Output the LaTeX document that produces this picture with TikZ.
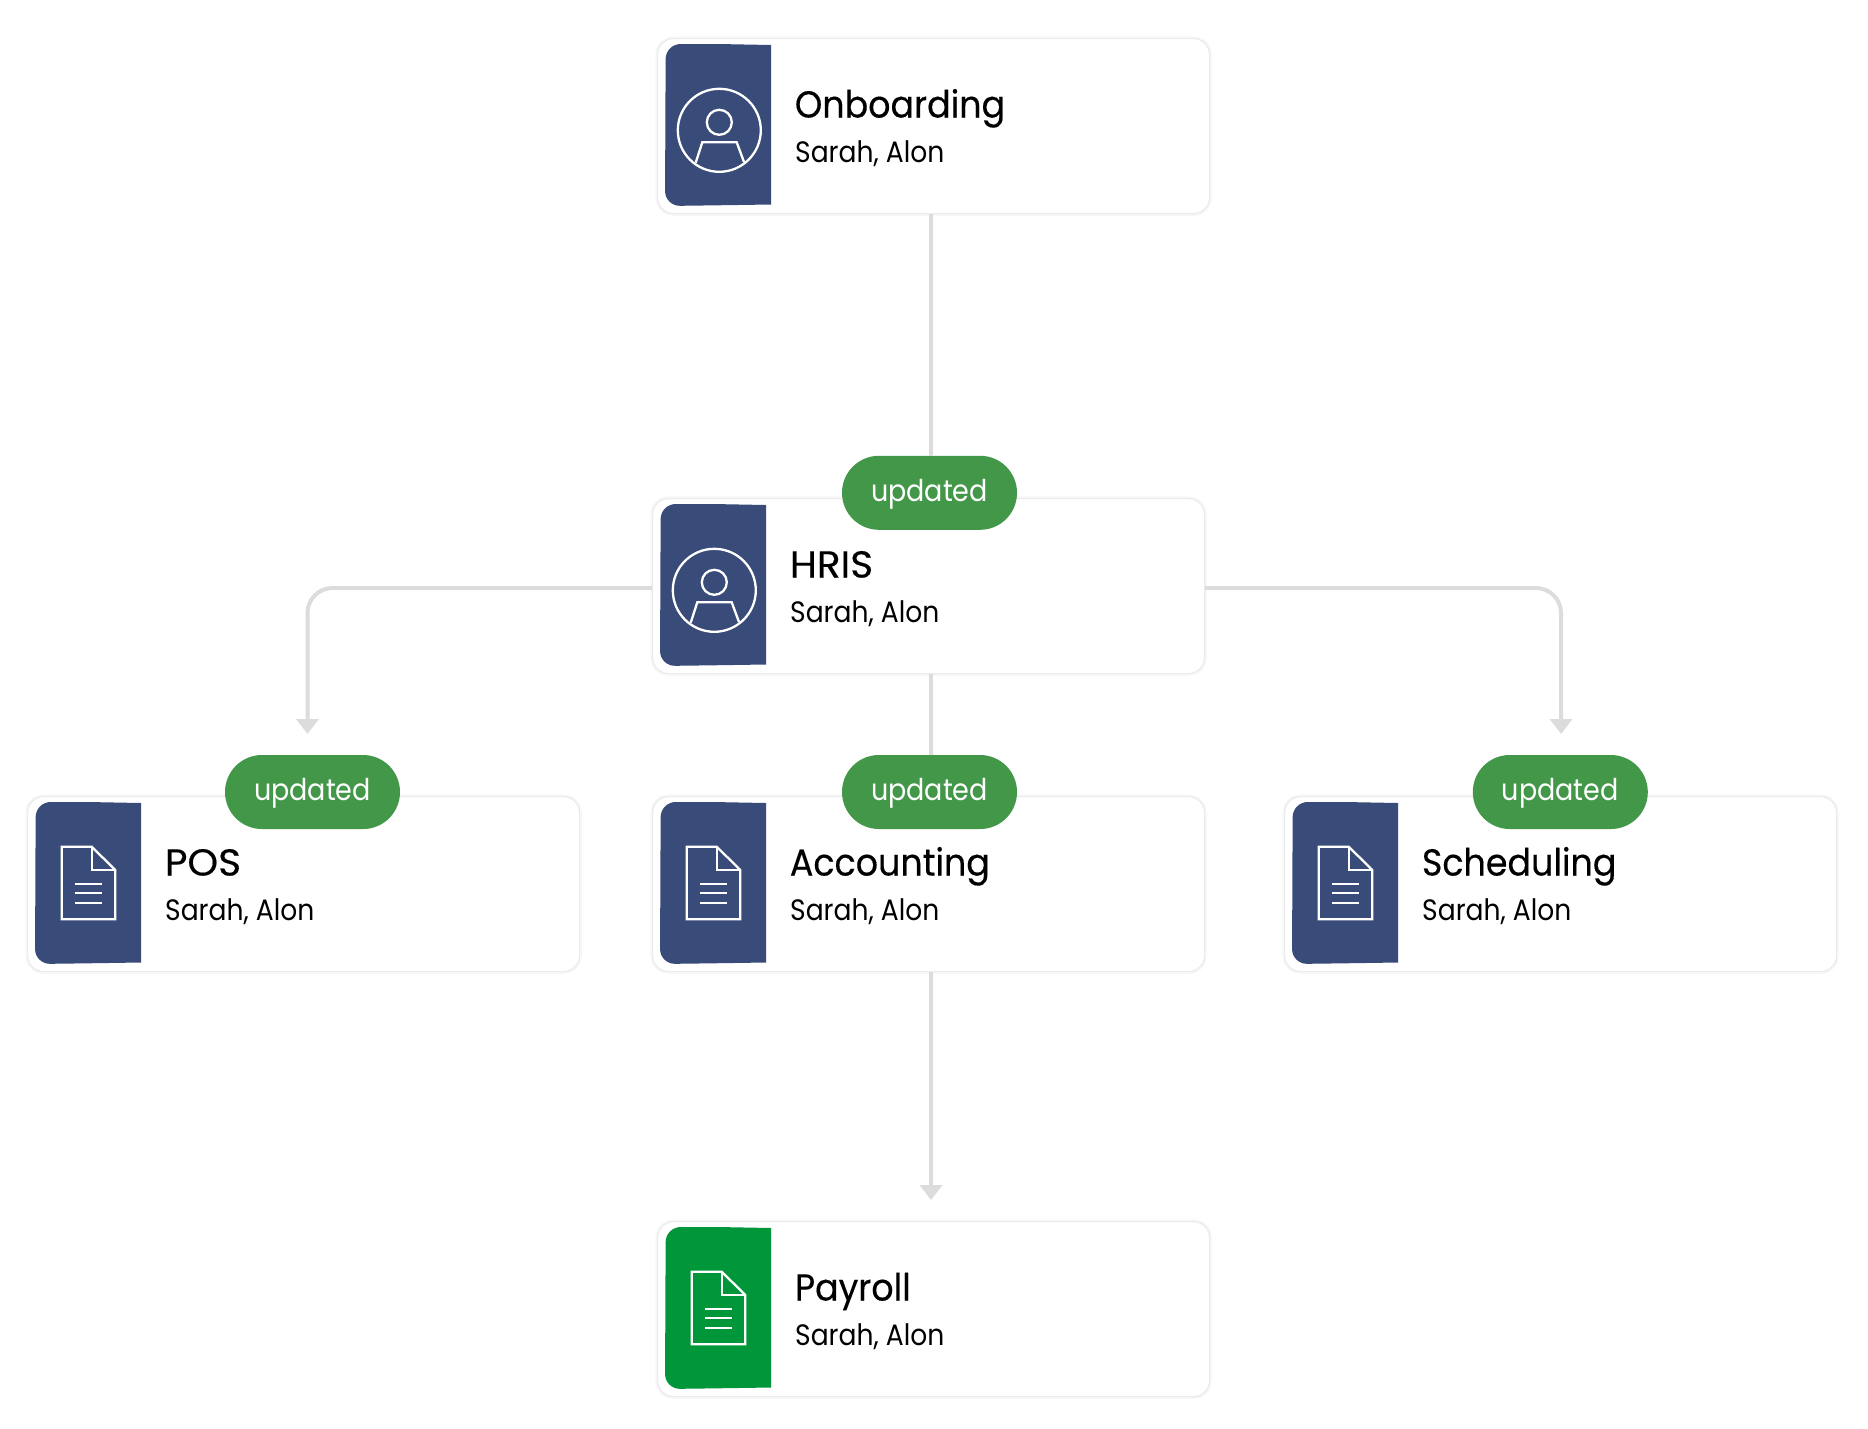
\documentclass[tikz,border=0pt]{standalone}
\usepackage{fontspec}
\setmainfont{Poppins}
\newfontfamily\titleface{Poppins}[FakeStretch=0.93,FakeBold=0.35]
\newfontfamily\capsface{Poppins}[FakeStretch=1.04,FakeBold=0.35]
\newfontfamily\subface{Poppins}[FakeStretch=0.90]
\newfontfamily\pillface{Poppins}[FakeStretch=0.90]
\usetikzlibrary{arrows.meta}
\definecolor{navy}{HTML}{394B78}
\definecolor{leaf}{HTML}{009639}
\definecolor{pillgreen}{HTML}{439748}
\definecolor{wire}{HTML}{DCDCDC}
\definecolor{cardedge}{HTML}{EBEBEB}
\definecolor{cardglow}{HTML}{F7F7F7}
\tikzset{
  x=1pt,y=-1pt,
  cardbox/.style={draw=cardedge,line width=1.2pt,fill=white,rounded corners=16pt,minimum width=552pt,minimum height=175pt,inner sep=0pt,anchor=north west,
    preaction={draw=cardglow,line width=4.5pt}},
  titletext/.style={anchor=base west,inner sep=0pt,font=\fontsize{37.5}{42}\titleface,text=black},
  subtext/.style={anchor=base west,inner sep=0pt,font=\fontsize{29.5}{34}\subface,text=black},
  pillbox/.style={fill=pillgreen,text=white,rounded corners=36.9pt,minimum width=175pt,minimum height=74pt,inner sep=0pt,font=\fontsize{30}{34}\pillface},
  conn/.style={draw=wire,line width=4pt},
  flow/.style={conn,-{Triangle[width=22pt,length=15pt,fill=wire]}},
  glyph/.style={draw=white,line width=2.3pt,line join=miter},
}
\newcommand{\pilltext}{\raisebox{-1.2pt}[\height][\depth]{updated}}
\newcommand{\docglyph}{%
  \draw[glyph] (33.7,49.7) -- (63.7,49.7) -- (87.3,73) -- (87.3,122.3) -- (33.7,122.3) -- cycle;
  \draw[glyph] (63.7,49.7) -- (63.7,73) -- (87.3,73);
  \draw[glyph] (47,87) -- (74,87) (47,96.3) -- (74,96.3) (47,105.7) -- (74,105.7);}
\newcommand{\userglyph}{%
  \draw[glyph] (61.3,91.3) circle[radius=41.5];
  \draw[glyph] (61.3,83.3) circle[radius=12.5];
  \draw[glyph] (37.7,123.7) -- (44.3,103.3) -- (78.7,103.3) -- (86,123);}
\newcommand{\makecard}[6]{%
  \node[cardbox,xshift=-1pt,yshift=1pt] (#1) at (#2,#3) {};
  \begin{scope}[shift={(#2,#3)}]
    \fill[#4] [rounded corners=15pt] (60,5) -- (7.7,5) -- (7,167) -- (60,166.3) [sharp corners] -- (113,165.5) -- (113,6) -- cycle;
    #5
    \node[titletext] (#1title) at (136.7,78.5) {#6};
    \node[subtext] (#1sub) at (137,123.7) {Sarah, Alon};
  \end{scope}}
\begin{document}
\begin{tikzpicture}
\useasboundingbox (0,0) rectangle (1868,1428);
\makecard{onb}{658}{39}{navy}{\userglyph}{Onboarding}
\makecard{hris}{653}{499}{navy}{\userglyph}{{\capsface HRIS}}
\makecard{pos}{28}{797}{navy}{\docglyph}{{\capsface POS}}
\makecard{acc}{653}{797}{navy}{\docglyph}{Accounting}
\makecard{sch}{1285}{797}{navy}{\docglyph}{Scheduling}
\makecard{pay}{658}{1222}{leaf}{\docglyph}{Payroll}
\coordinate (spine) at (931,0);
\coordinate (hrow) at (0,588);
\coordinate (posend) at (307.5,734);
\coordinate (schend) at (1561,734);
\coordinate (payend) at (931,1200);
\node[pillbox] (hrispill) at (929.5,492.8) {\pilltext};
\node[pillbox] (pospill) at (312.5,792) {\pilltext};
\node[pillbox] (accpill) at (929.5,792) {\pilltext};
\node[pillbox] (schpill) at (1560.3,792) {\pilltext};
\draw[conn] (spine |- onb.south) -- (spine |- hrispill.north);
\draw[conn] (spine |- hris.south) -- (spine |- accpill.north);
\draw[flow,rounded corners=25pt] (hris.west |- hrow) -- (posend |- hrow) -- (posend);
\draw[flow,rounded corners=25pt] (hris.east |- hrow) -- (schend |- hrow) -- (schend);
\draw[flow] (spine |- acc.south) -- (payend);
\end{tikzpicture}
\end{document}
